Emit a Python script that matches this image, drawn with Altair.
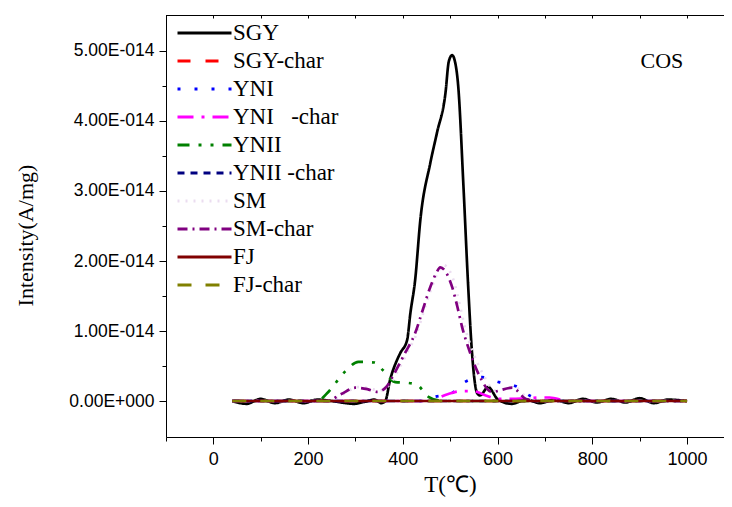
import altair as alt
import pandas as pd

# ---------------- data (intensity in units of 1E-14 A/mg) ----------------
series_names = ["SGY", "SGY-char", "YNI", "YNI\u00a0\u00a0\u00a0-char", "YNII",
                "YNII\u00a0-char", "SM", "SM-char", "FJ", "FJ-char"]
series_colors = ["#000000", "#FF0000", "#0000FF", "#FF00FF", "#008000",
                 "#000080", "#EBDDF0", "#800080", "#800000", "#808000"]
series_dashes = [[1, 0], [13, 15], [3, 14], [16, 8, 3, 8], [12, 9, 3, 9, 3, 9],
                 [7, 6], [2, 6], [10, 5, 2, 5], [1, 0], [14, 14]]

t_sgy = [40, 70, 100, 130, 160, 190, 220, 250, 280, 296, 320, 340, 355, 363, 373,
         388, 395, 409, 416, 426, 437, 458, 472, 490, 497, 504, 510, 517, 528,
         538, 546, 557, 563, 580, 601, 630, 660, 690, 720, 750, 780, 810, 840,
         870, 900, 930, 960, 1000]
i_sgy = [0, -0.04, 0.03, -0.03, 0.02, -0.03, 0.02, 0.0, -0.03, -0.04, -0.01, 0.02,
         -0.03, 0.0, 0.3, 0.59, 0.69, 0.87, 1.26, 1.73, 2.59, 3.4, 3.83, 4.4, 4.85,
         4.94, 4.85, 4.49, 3.06, 1.63, 0.69, 0.11, 0.08, 0.2, 0.02, -0.04, 0.02,
         -0.03, 0.02, -0.03, 0.03, -0.02, 0.03, -0.02, 0.04, -0.03, 0.02, 0.0]

t_flat = [40, 1000]
i_flat = [0, 0]

t_yni = [40, 440, 468, 500, 528, 567, 603, 639, 667, 700, 1000]
i_yni = [0, 0, 0.06, 0.1, 0.26, 0.34, 0.27, 0.21, 0.08, 0, 0]

t_yni_char = [40, 450, 496, 521, 549, 575, 600, 630, 660, 690, 710, 750, 1000]
i_yni_char = [0, 0, 0.1, 0.14, 0.14, 0.08, 0.03, 0.03, 0.04, 0.05, 0.05, 0, 0]

t_ynii = [40, 200, 225, 240, 278, 306, 340, 358, 384, 409, 430, 454, 475, 500, 1000]
i_ynii = [0, 0, 0.02, 0.11, 0.42, 0.56, 0.55, 0.44, 0.27, 0.26, 0.23, 0.06, 0.01, 0, 0]

t_sm = [40, 240, 275, 305, 330, 350, 370, 385, 410, 430, 446, 462, 474, 486,
        497, 510, 520, 530, 548, 568, 595, 636, 665, 690, 1000]
i_sm = [0, 0, 0.1, 0.2, 0.18, 0.15, 0.22, 0.38, 0.7, 0.98, 1.32, 1.64, 1.84, 1.94,
        1.88, 1.66, 1.38, 1.08, 0.7, 0.4, 0.15, 0.2, 0.03, 0, 0]

t_sm_char = [40, 240, 270, 300, 325, 346, 365, 380, 405, 426, 442, 458, 470, 479,
             490, 504, 515, 525, 542, 561, 588, 631, 660, 685, 1000]
i_sm_char = [0, 0, 0.1, 0.19, 0.17, 0.13, 0.2, 0.37, 0.69, 0.97, 1.3, 1.63, 1.82,
             1.91, 1.85, 1.63, 1.35, 1.06, 0.69, 0.37, 0.13, 0.19, 0.03, 0, 0]

series_t = [t_sgy, t_flat, t_yni, t_yni_char, t_ynii, t_flat, t_sm, t_sm_char, t_flat, t_flat]
series_i = [i_sgy, i_flat, i_yni, i_yni_char, i_ynii, i_flat, i_sm, i_sm_char, i_flat, i_flat]

x_ticks = [-100, 0, 100, 200, 300, 400, 500, 600, 700, 800, 900, 1000]
# y ticks in units of 1E-14
y_ticks = [0, 0.5, 1, 1.5, 2, 2.5, 3, 3.5, 4, 4.5, 5]

note_text = ["COS"]
note_t = [947]
note_i = [4.86]

# ---------------- table (I in units of 1E-14 A/mg) ----------------
rows = []
for k, name in enumerate(series_names):
    for t, v in zip(series_t[k], series_i[k]):
        rows.append({"series": name, "order": k, "T": t, "I": v})
df = pd.DataFrame(rows)
notes = pd.DataFrame({"text": note_text, "T": note_t, "I": note_i})

SERIF = "Liberation Serif"
SANS = "Liberation Sans"

xscale = alt.Scale(domain=[-100, 1078], nice=False, zero=False)
yscale = alt.Scale(domain=[-0.514, 5.514], nice=False, zero=False)

x_axis = alt.Axis(
    orient="bottom",
    values=x_ticks, title="T(℃)", titleFont=SERIF, titleFontSize=23,
    titleFontWeight="normal", titlePadding=5, titleX=284, labelFont=SANS, labelFontSize=18,
    labelExpr="datum.value % 200 === 0 && datum.value >= 0 ? format(datum.value, 'd') : ''",
    tickSize={"condition": {"test": "datum.value % 200 === 0", "value": 7}, "value": 4},
    tickColor="black", domainColor="black", labelColor="black", titleColor="black",
    grid=False, labelPadding=6, labelFlush=False, labelOverlap=False,
)
x_top_axis = alt.Axis(
    orient="top", values=x_ticks, labels=False, domain=False, ticks=True,
    tickSize=3, offset=-3, title=None, grid=False, tickColor="black",
)
y_axis = alt.Axis(
    values=y_ticks, title="Intensity(A/mg)", titleFont=SERIF, titleFontSize=22,
    titleFontWeight="normal", titlePadding=31, titleY=220, labelFont=SANS, labelFontSize=17.5,
    labelExpr="datum.value == 0 ? '0.00E+000' : (datum.value % 1 === 0 ? format(datum.value, '.2f') + 'E-014' : '')",
    tickSize={"condition": {"test": "datum.value % 1 === 0", "value": 7}, "value": 4},
    tickColor="black", domainColor="black", labelColor="black", titleColor="black",
    grid=False, labelPadding=5, labelFlush=False, labelOverlap=False,
)

lines = alt.Chart(df).mark_line(strokeWidth=2.7, interpolate="monotone").encode(
    x=alt.X("T:Q", scale=xscale, axis=x_axis),
    y=alt.Y("I:Q", scale=yscale, axis=y_axis),
    color=alt.Color("series:N", scale=alt.Scale(domain=series_names, range=series_colors),
                    legend=alt.Legend(title=None, orient="none", legendX=10, legendY=4,
                                      symbolType="stroke", symbolSize=2916,
                                      symbolStrokeWidth=3, labelFont=SERIF,
                                      labelFontSize=23, labelColor="black",
                                      labelOffset=0, rowPadding=0, clipHeight=28,
                                      padding=0, labelLimit=300)),
    strokeDash=alt.StrokeDash("series:N", scale=alt.Scale(domain=series_names, range=series_dashes),
                              legend=alt.Legend(title=None)),
    detail="order:O",
)

top_line = alt.Chart(notes).mark_rule(color="black", strokeWidth=1).encode(
    y=alt.value(0.5)
)

note = alt.Chart(notes).mark_text(font=SERIF, fontSize=22, color="black").encode(
    x=alt.X("T:Q", scale=xscale, axis=x_top_axis),
    y=alt.Y("I:Q", scale=yscale, axis=y_axis),
    text="text:N",
)

chart = alt.layer(lines, top_line, note).resolve_axis(x="independent").properties(
    width=558, height=422,
    padding={"left": 158, "top": 7, "right": 0, "bottom": 62},
    autosize=alt.AutoSizeParams(type="none"),
).configure_view(strokeWidth=0).configure(background="white")

chart.save("out.html", embed_options={"renderer": "svg", "actions": False})
